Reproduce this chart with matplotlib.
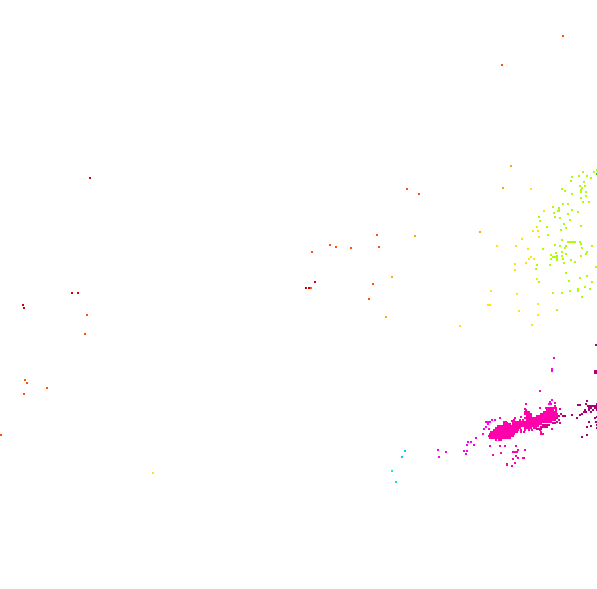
#!/usr/bin/env python3
"""Sparse coloured cell map, cells read off the picture in pixel coordinates."""

import matplotlib
matplotlib.use("Agg")
import matplotlib.pyplot as plt

W, H = 597, 589

red = [(89, 177), (71, 292), (77, 292), (22, 304), (23, 307), (305, 287), (308, 287), (314, 281)]
orange_red = [(86, 314), (84, 333), (24, 379), (26, 382), (46, 387), (23, 393), (0, 434),
              (406, 188), (418, 193), (329, 244), (335, 246), (350, 247), (311, 251),
              (376, 234), (378, 246), (372, 283), (368, 298), (310, 287), (501, 64), (562, 35)]
orange = [(510, 165), (502, 187), (414, 235), (391, 276), (479, 231), (385, 316)]
yellow = [(530, 188), (543, 210), (536, 226), (532, 230), (537, 230), (521, 238), (538, 236),
          (496, 245), (515, 245), (527, 248), (530, 256), (528, 258), (533, 258), (514, 263),
          (525, 262), (514, 269), (536, 278), (490, 290), (516, 293), (487, 304), (489, 304),
          (537, 303), (518, 310), (537, 314), (531, 324), (459, 325), (152, 472)]
lime = [(596, 169), (593, 171), (582, 171), (571, 176), (578, 175), (586, 175), (590, 177),
        (570, 180), (583, 181), (579, 185), (584, 185), (561, 188), (564, 190), (580, 189),
        (585, 191), (571, 193), (585, 195), (580, 197), (582, 201), (588, 201), (562, 203),
        (567, 203), (552, 206), (558, 208), (571, 209), (557, 210), (553, 212), (567, 213),
        (577, 211), (554, 216), (538, 216), (559, 217), (569, 219), (539, 220), (563, 223),
        (546, 226), (580, 225), (565, 227), (560, 229), (547, 234), (561, 239), (567, 241),
        (570, 241), (572, 241), (579, 241), (580, 243), (554, 244), (559, 245), (565, 245),
        (591, 245), (564, 247), (581, 247), (542, 248), (561, 251), (555, 252), (586, 251),
        (585, 253), (565, 253), (550, 254), (561, 255), (580, 255), (556, 257), (552, 256),
        (554, 256), (550, 258), (562, 258), (570, 259), (574, 261), (563, 262), (536, 264),
        (549, 264), (595, 266), (535, 268), (565, 272), (586, 275), (579, 277), (568, 280),
        (591, 281), (538, 281), (584, 286), (577, 288), (589, 288), (569, 290), (552, 292),
        (561, 292), (577, 290), (581, 296), (556, 309), (556, 255), (556, 259), (558, 207),
        (558, 210), (581, 187), (580, 191), (568, 241), (574, 241)]
green = [(596, 173)]
cyan = [(404, 450), (401, 456)]
mint = [(391, 470), (395, 481)]
violet = [(553, 357), (551, 368), (551, 370), (485, 421), (487, 421), (489, 421), (487, 423),
          (491, 419), (494, 419), (483, 428), (485, 426), (488, 428), (482, 433), (467, 441),
          (466, 444), (470, 441), (463, 450), (466, 450), (465, 453), (473, 444), (549, 401),
          (551, 399), (548, 403), (550, 403), (437, 449), (438, 456), (445, 451)]
pink = [(539, 390), (525, 403), (524, 408), (539, 407), (554, 402), (554, 405),
        (511, 420), (506, 422), (499, 417), (520, 416), (551, 428), (541, 433),
        (512, 451), (514, 451), (516, 451), (515, 455), (524, 449), (517, 449), (492, 454),
        (500, 452), (512, 458), (517, 457), (522, 457), (523, 457), (514, 462), (506, 463),
        (506, 464), (511, 465), (489, 445), (499, 445), (504, 445), (475, 437), (515, 445),
        # the dense band, row by row
        (545, 407), (547, 407), (549, 407), (551, 407), (553, 407), (555, 407),
        (525, 409), (546, 409), (548, 409), (550, 409), (552, 409), (555, 409),
        (524, 411), (526, 411), (528, 411), (543, 411), (545, 411), (547, 411), (549, 411),
        (551, 411), (553, 411), (555, 411),
        (524, 413), (526, 413), (528, 413), (530, 413), (540, 413), (542, 413), (544, 413),
        (546, 413), (548, 413), (550, 413), (552, 413), (554, 413), (556, 413),
        (526, 415), (528, 415), (530, 415), (536, 415), (538, 415), (540, 415), (542, 415),
        (544, 415), (546, 415), (548, 415), (550, 415), (552, 415), (554, 415), (556, 415),
        (514, 417), (524, 417), (526, 417), (528, 417), (530, 417), (532, 417), (534, 417),
        (536, 417), (538, 417), (540, 417), (542, 417), (544, 417), (546, 417), (548, 417),
        (550, 417), (552, 417), (554, 417), (556, 417),
        (513, 419), (519, 419), (522, 419), (526, 419), (528, 419), (530, 419), (532, 419),
        (534, 419), (536, 419), (538, 419), (540, 419), (542, 419), (544, 419), (546, 419),
        (548, 419), (550, 419), (552, 419),
        (503, 421), (505, 421), (512, 421), (514, 421), (516, 421), (518, 421), (520, 421),
        (522, 421), (524, 421), (526, 421), (528, 421), (530, 421), (532, 421), (534, 421),
        (536, 421), (538, 421), (540, 421), (542, 421), (544, 421), (546, 421), (548, 421),
        (550, 421),
        (503, 423), (505, 423), (507, 423), (509, 423), (512, 423), (514, 423), (516, 423),
        (518, 423), (520, 423), (522, 423), (524, 423), (526, 423), (528, 423), (530, 423),
        (532, 423), (534, 423), (536, 423), (538, 423), (540, 423),
        (497, 425), (499, 425), (501, 425), (503, 425), (505, 425), (507, 425), (509, 425),
        (511, 425), (513, 425), (515, 425), (517, 425), (519, 425), (521, 425), (523, 425),
        (525, 425), (527, 425), (529, 425), (531, 425), (533, 425), (535, 425), (537, 425),
        (495, 427), (497, 427), (499, 427), (501, 427), (503, 427), (505, 427), (507, 427),
        (509, 427), (511, 427), (513, 427), (515, 427), (517, 427), (519, 427), (524, 427),
        (526, 427), (528, 427), (530, 427), (533, 427), (535, 427),
        (493, 429), (495, 429), (497, 429), (499, 429), (501, 429), (503, 429), (505, 429),
        (507, 429), (509, 429), (511, 429), (513, 429), (515, 429), (517, 429), (520, 429),
        (524, 429), (528, 429), (531, 429), (539, 429),
        (490, 431), (492, 431), (494, 431), (496, 431), (498, 431), (500, 431), (502, 431),
        (504, 431), (506, 431), (508, 431), (510, 431), (512, 431), (514, 431), (516, 431),
        (520, 431), (523, 431), (540, 431),
        (489, 433), (491, 433), (493, 433), (495, 433), (497, 433), (499, 433), (501, 433),
        (503, 433), (505, 433), (507, 433), (509, 433), (511, 433), (513, 433), (540, 433),
        (542, 433),
        (488, 435), (490, 435), (492, 435), (494, 435), (496, 435), (498, 435), (500, 435),
        (502, 435), (504, 435), (506, 435), (508, 435), (510, 435), (512, 435),
        (489, 437), (491, 437), (493, 437), (495, 437), (497, 437), (499, 437), (501, 437),
        (503, 437), (505, 437), (507, 437), (509, 437),
        (495, 439), (498, 439), (500, 439)]
rose = [(542, 424), (544, 424), (546, 424), (548, 424), (540, 426), (542, 426), (544, 426),
        (546, 426), (536, 428), (538, 428), (540, 428), (558, 415), (556, 417), (558, 419),
        (554, 419), (556, 421), (552, 422), (554, 422), (559, 408), (559, 422), (560, 413)]
dark = [(595, 344), (594, 370), (596, 370), (594, 372), (596, 372), (586, 400), (585, 403),
        (577, 404), (579, 404), (587, 405), (589, 405), (591, 405), (593, 405), (595, 405),
        (596, 403), (596, 407), (584, 409), (588, 407), (590, 407), (594, 407), (585, 411),
        (588, 409), (590, 411), (596, 409), (592, 409), (571, 414), (579, 414), (576, 417),
        (583, 411), (581, 413), (562, 415), (564, 415), (588, 421), (586, 426), (590, 425),
        (581, 436), (586, 434), (595, 421), (596, 424), (596, 427), (596, 416), (594, 417)]

groups = [
    (red, "#d40000"), (orange_red, "#ff5500"), (orange, "#ffaa00"), (yellow, "#ffe600"),
    (lime, "#aaff00"), (green, "#33cc00"), (cyan, "#00ccff"), (mint, "#00ff88"),
    (violet, "#ff00ee"), (pink, "#ff00aa"), (rose, "#d4008f"), (dark, "#aa0077"),
]

fig = plt.figure(figsize=(W / 100, H / 100), dpi=100)
ax = fig.add_axes([0, 0, 1, 1])
ax.set_xlim(0, W)
ax.set_ylim(H, 0)
ax.axis("off")

cell = (2.7 * 72 / 100) ** 2
for points, colour in groups:
    xs = [p[0] + 0.5 for p in points]
    ys = [p[1] + 0.5 for p in points]
    ax.scatter(xs, ys, s=cell, c=colour, marker="s", linewidths=0, antialiaseds=False,
               clip_on=False)

fig.savefig("out.png", dpi=100)
plt.close(fig)
